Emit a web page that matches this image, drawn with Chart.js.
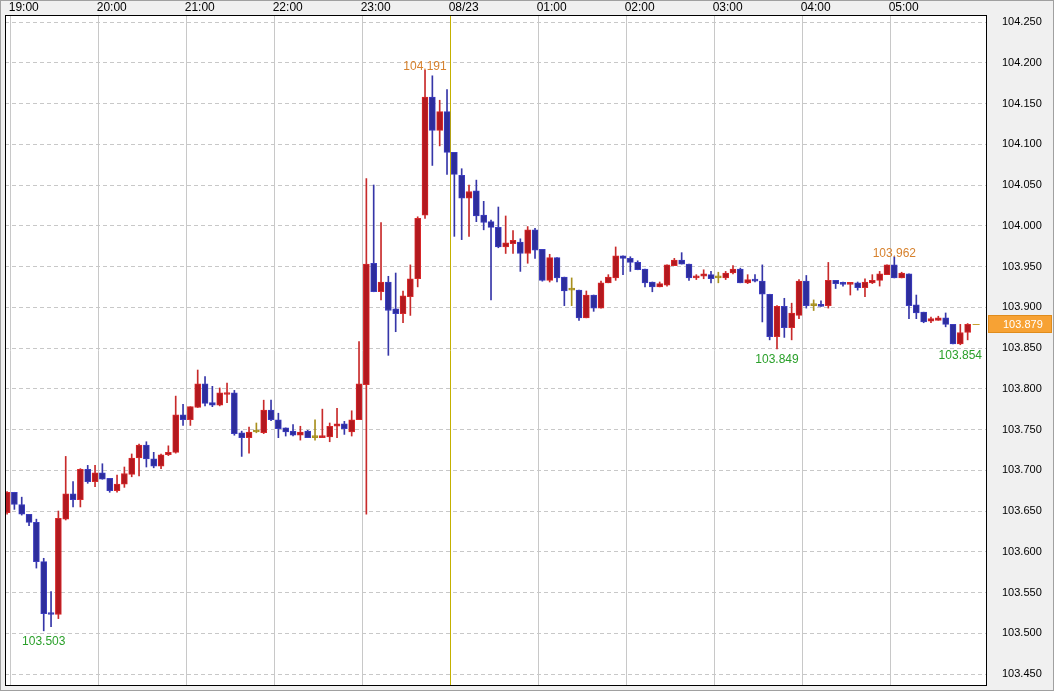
<!DOCTYPE html>
<html>
<head>
<meta charset="utf-8">
<title>USD/JPY 5分足</title>
<script src="https://cdn.jsdelivr.net/npm/chart.js@4"></script>
<style>
  html, body { margin: 0; padding: 0; background: #f0f0f0; }
  canvas { display: block; }
</style>
</head>
<body>
<canvas id="chart" width="1054" height="691"></canvas>
<script>
// 5分足 18:55 - 05:50
const times = [
  "18:55",
  "19:00","19:05","19:10","19:15","19:20","19:25","19:30","19:35","19:40","19:45","19:50","19:55",
  "20:00","20:05","20:10","20:15","20:20","20:25","20:30","20:35","20:40","20:45","20:50","20:55",
  "21:00","21:05","21:10","21:15","21:20","21:25","21:30","21:35","21:40","21:45","21:50","21:55",
  "22:00","22:05","22:10","22:15","22:20","22:25","22:30","22:35","22:40","22:45","22:50","22:55",
  "23:00","23:05","23:10","23:15","23:20","23:25","23:30","23:35","23:40","23:45","23:50","23:55",
  "00:00","00:05","00:10","00:15","00:20","00:25","00:30","00:35","00:40","00:45","00:50","00:55",
  "01:00","01:05","01:10","01:15","01:20","01:25","01:30","01:35","01:40","01:45","01:50","01:55",
  "02:00","02:05","02:10","02:15","02:20","02:25","02:30","02:35","02:40","02:45","02:50","02:55",
  "03:00","03:05","03:10","03:15","03:20","03:25","03:30","03:35","03:40","03:45","03:50","03:55",
  "04:00","04:05","04:10","04:15","04:20","04:25","04:30","04:35","04:40","04:45","04:50","04:55",
  "05:00","05:05","05:10","05:15","05:20","05:25","05:30","05:35","05:40","05:45","05:50"
];

const open = [
  103.648,
  103.673,103.658,103.646,103.636,103.588,103.525,103.523,103.640,103.671,103.664,103.701,103.686,
  103.697,103.690,103.675,103.683,103.695,103.715,103.731,103.714,103.705,103.719,103.722,103.768,
  103.762,103.777,103.806,103.783,103.780,103.793,103.795,103.746,103.740,103.747,103.746,103.774,
  103.762,103.752,103.748,103.743,103.748,103.740,103.740,103.741,103.754,103.757,103.747,103.762,
  103.805,103.954,103.919,103.931,103.898,103.892,103.913,103.935,104.013,104.158,104.117,104.140,
  104.090,104.062,104.034,104.043,104.013,104.005,103.998,103.974,103.978,103.980,103.966,103.995,
  103.971,103.933,103.961,103.937,103.921,103.921,103.887,103.915,103.899,103.930,103.936,103.963,
  103.960,103.955,103.947,103.931,103.925,103.927,103.951,103.958,103.953,103.936,103.938,103.940,
  103.936,103.936,103.942,103.947,103.930,103.934,103.932,103.916,103.864,103.901,103.875,103.890,
  103.932,103.902,103.903,103.902,103.933,103.930,103.928,103.930,103.924,103.930,103.933,103.940,
  103.952,103.936,103.941,103.903,103.894,103.883,103.884,103.887,103.879,103.855,103.869
];
const high = [
  103.674,
  103.673,103.667,103.646,103.640,103.592,103.551,103.650,103.717,103.686,103.702,103.706,103.706,
  103.708,103.690,103.694,103.704,103.720,103.732,103.735,103.722,103.720,103.730,103.791,103.781,
  103.778,103.823,103.815,103.803,103.801,103.807,103.798,103.748,103.753,103.758,103.786,103.786,
  103.770,103.752,103.756,103.754,103.749,103.762,103.775,103.758,103.776,103.760,103.773,103.858,
  104.058,104.050,104.004,103.938,103.942,103.920,103.952,104.011,104.191,104.184,104.154,104.167,
  104.090,104.070,104.050,104.056,104.030,104.007,104.023,104.012,103.994,103.984,103.999,103.997,
  103.971,103.965,103.961,103.937,103.936,103.921,103.920,103.915,103.932,103.940,103.974,103.963,
  103.962,103.957,103.947,103.931,103.931,103.952,103.960,103.967,103.953,103.940,103.946,103.944,
  103.943,103.944,103.951,103.948,103.940,103.940,103.952,103.916,103.902,103.911,103.905,103.934,
  103.939,103.909,103.908,103.955,103.933,103.931,103.930,103.931,103.935,103.940,103.944,103.952,
  103.962,103.943,103.941,103.915,103.894,103.888,103.889,103.893,103.879,103.879,103.880
];
const low = [
  103.646,
  103.652,103.645,103.632,103.580,103.503,103.508,103.518,103.639,103.655,103.655,103.684,103.680,
  103.689,103.673,103.673,103.679,103.692,103.693,103.704,103.703,103.702,103.718,103.721,103.755,
  103.755,103.777,103.779,103.778,103.779,103.783,103.743,103.717,103.721,103.746,103.745,103.761,
  103.740,103.742,103.742,103.737,103.740,103.737,103.740,103.735,103.740,103.744,103.742,103.762,
  103.646,103.919,103.909,103.841,103.870,103.881,103.890,103.925,104.009,104.074,104.098,104.063,
  103.987,103.983,103.987,104.005,103.995,103.909,103.973,103.966,103.966,103.944,103.954,103.960,
  103.932,103.931,103.931,103.902,103.902,103.884,103.887,103.895,103.899,103.930,103.933,103.940,
  103.944,103.946,103.925,103.919,103.925,103.926,103.951,103.953,103.933,103.934,103.935,103.930,
  103.930,103.934,103.941,103.930,103.929,103.931,103.882,103.860,103.849,103.863,103.860,103.886,
  103.899,103.896,103.901,103.899,103.923,103.926,103.915,103.921,103.913,103.929,103.926,103.940,
  103.936,103.936,103.886,103.886,103.881,103.881,103.884,103.876,103.855,103.854,103.860
];
const close = [
  103.673,
  103.658,103.646,103.636,103.588,103.524,103.523,103.641,103.671,103.664,103.701,103.686,103.697,
  103.689,103.675,103.683,103.696,103.715,103.731,103.714,103.705,103.719,103.722,103.768,103.762,
  103.778,103.806,103.782,103.780,103.795,103.795,103.745,103.740,103.747,103.747,103.774,103.762,
  103.751,103.747,103.743,103.747,103.740,103.740,103.742,103.754,103.757,103.751,103.762,103.806,
  103.953,103.919,103.931,103.896,103.892,103.914,103.935,104.009,104.158,104.117,104.140,104.090,
  104.063,104.034,104.042,104.012,104.004,103.998,103.974,103.979,103.982,103.966,103.995,103.970,
  103.933,103.961,103.936,103.920,103.921,103.887,103.915,103.899,103.930,103.937,103.963,103.960,
  103.955,103.946,103.930,103.925,103.929,103.952,103.958,103.953,103.936,103.938,103.941,103.935,
  103.936,103.942,103.947,103.930,103.934,103.932,103.916,103.864,103.901,103.875,103.893,103.932,
  103.902,103.902,103.901,103.933,103.929,103.928,103.930,103.924,103.931,103.933,103.941,103.952,
  103.936,103.942,103.902,103.893,103.882,103.886,103.887,103.879,103.855,103.869,103.879
];

const hourLabels = ["19:00","20:00","21:00","22:00","23:00","08/23","01:00","02:00","03:00","04:00","05:00"];
const dateChangeLabel = "08/23";

// 高値・安値の表示位置（配列の添字）
const markHigh = [57, 121];
const markLow = [5, 105, 130];

const UP_FILL = "#b3191f", UP_LINE = "#d8282a";
const DN_FILL = "#2d2d9c", DN_LINE = "#3c3cc0";
const EVEN = "#a8901e";

function minutesFrom19(t) {
  const [h, m] = t.split(":").map(Number);
  let v = (h - 19) * 60 + m;
  if (v < -60) v += 1440;
  return v;
}
// ローソクは各5分枠の中央に置く
const xs = times.map(t => minutesFrom19(t) + 2.5);

const bodyFill = open.map((o, i) => close[i] > o ? UP_FILL : close[i] < o ? DN_FILL : EVEN);
const bodyLine = open.map((o, i) => close[i] > o ? UP_LINE : close[i] < o ? DN_LINE : EVEN);
const wickColor = open.map((o, i) => close[i] > o ? "#c82a2a" : close[i] < o ? "#3636a8" : EVEN);

const labelFont = "12px 'Liberation Sans', Arial, sans-serif";
const axisFamily = "'Liberation Sans', Arial, sans-serif";

const isDateTick = c => c.tick && hourLabels[Math.round(c.tick.value / 60)] === dateChangeLabel;

const framePlugin = {
  id: "frame",
  beforeDraw(chart) {
    const { ctx, chartArea: a } = chart;
    ctx.save();
    ctx.fillStyle = "#f0f0f0";
    ctx.fillRect(0, 0, chart.width, chart.height);
    ctx.fillStyle = "#ffffff";
    ctx.fillRect(a.left, a.top, a.right - a.left, a.bottom - a.top);
    ctx.restore();
  },
  afterDraw(chart) {
    const { ctx, chartArea: a, scales } = chart;
    ctx.save();
    ctx.strokeStyle = "#000";
    ctx.lineWidth = 1;
    ctx.strokeRect(a.left + 0.5, a.top + 0.5, a.right - a.left - 1, a.bottom - a.top - 1);
    ctx.strokeStyle = "#a0a0a0";
    ctx.strokeRect(0.5, 0.5, chart.width - 1, chart.height - 1);

    // 現在値
    const last = close.length - 1;
    const y = Math.round(scales.y.getPixelForValue(close[last]));
    const lx = scales.x.getPixelForValue(xs[last]);
    ctx.strokeStyle = "#c8a030";
    ctx.beginPath();
    ctx.moveTo(lx + 5, y + 0.5);
    ctx.lineTo(lx + 12, y + 0.5);
    ctx.stroke();

    ctx.fillStyle = "#f7a234";
    ctx.fillRect(a.right + 1, y - 9, chart.width - a.right - 3, 18);
    ctx.strokeStyle = "#e08c1c";
    ctx.strokeRect(a.right + 1.5, y - 8.5, chart.width - a.right - 4, 17);
    ctx.fillStyle = "#ffffff";
    ctx.font = "11px " + axisFamily;
    ctx.textAlign = "left";
    ctx.textBaseline = "middle";
    ctx.fillText(close[last].toFixed(3), a.right + 16, y + 1);
    ctx.restore();
  },
  afterDatasetsDraw(chart) {
    const { ctx, scales } = chart;
    ctx.save();
    ctx.font = labelFont;
    ctx.textAlign = "center";
    ctx.textBaseline = "middle";
    ctx.fillStyle = "#d7822e";
    markHigh.forEach(i => {
      ctx.fillText(high[i].toFixed(3), scales.x.getPixelForValue(xs[i]), scales.y.getPixelForValue(high[i]) - 3);
    });
    ctx.fillStyle = "#2aa02a";
    markLow.forEach(i => {
      ctx.fillText(low[i].toFixed(3), scales.x.getPixelForValue(xs[i]), scales.y.getPixelForValue(low[i]) + 11);
    });
    ctx.restore();
  }
};

new Chart(document.getElementById("chart"), {
  type: "bar",
  data: {
    datasets: [
      {
        label: "body",
        data: xs.map((x, i) => ({ x, y: [open[i], close[i]] })),
        backgroundColor: bodyFill,
        borderColor: bodyLine,
        borderWidth: 1,
        borderSkipped: false,
        barThickness: 6,
        minBarLength: 2,
        order: 0
      },
      {
        label: "wick",
        data: xs.map((x, i) => ({ x, y: [low[i], high[i]] })),
        backgroundColor: wickColor,
        borderWidth: 0,
        barThickness: 1,
        order: 1
      }
    ]
  },
  options: {
    responsive: false,
    animation: false,
    layout: { padding: { left: 5, bottom: 5, top: 0, right: 0 } },
    datasets: { bar: { grouped: false } },
    plugins: {
      legend: { display: false },
      tooltip: { enabled: false }
    },
    scales: {
      x: {
        type: "linear",
        position: "top",
        offset: false,
        min: -3.9,
        max: 665.7,
        afterBuildTicks: axis => {
          axis.ticks = hourLabels.map((_, k) => ({ value: k * 60 }));
        },
        afterFit: s => { s.height = 15; s.paddingLeft = 0; s.paddingRight = 0; },
        ticks: {
          autoSkip: false,
          maxRotation: 0,
          align: "start",
          labelOffset: -2,
          padding: 0,
          color: "#000",
          font: { family: axisFamily, size: 12 },
          callback: v => hourLabels[Math.round(v / 60)]
        },
        grid: {
          offset: false,
          drawTicks: false,
          color: c => isDateTick(c) ? "#c4b000" : "#c8c8c8",
          lineWidth: 1
        },
        border: { display: false }
      },
      y: {
        position: "right",
        min: 103.4353,
        max: 104.2586,
        afterFit: s => { s.width = 67; s.paddingTop = 0; s.paddingBottom = 0; },
        ticks: {
          stepSize: 0.05,
          includeBounds: false,
          maxTicksLimit: 100,
          padding: 15,
          crossAlign: "near",
          color: "#000",
          font: { family: axisFamily, size: 11 },
          callback: v => v.toFixed(3)
        },
        grid: { drawTicks: false, color: "#c8c8c8" },
        border: { display: false, dash: [4, 3] }
      }
    }
  },
  plugins: [framePlugin]
});
</script>
</body>
</html>
